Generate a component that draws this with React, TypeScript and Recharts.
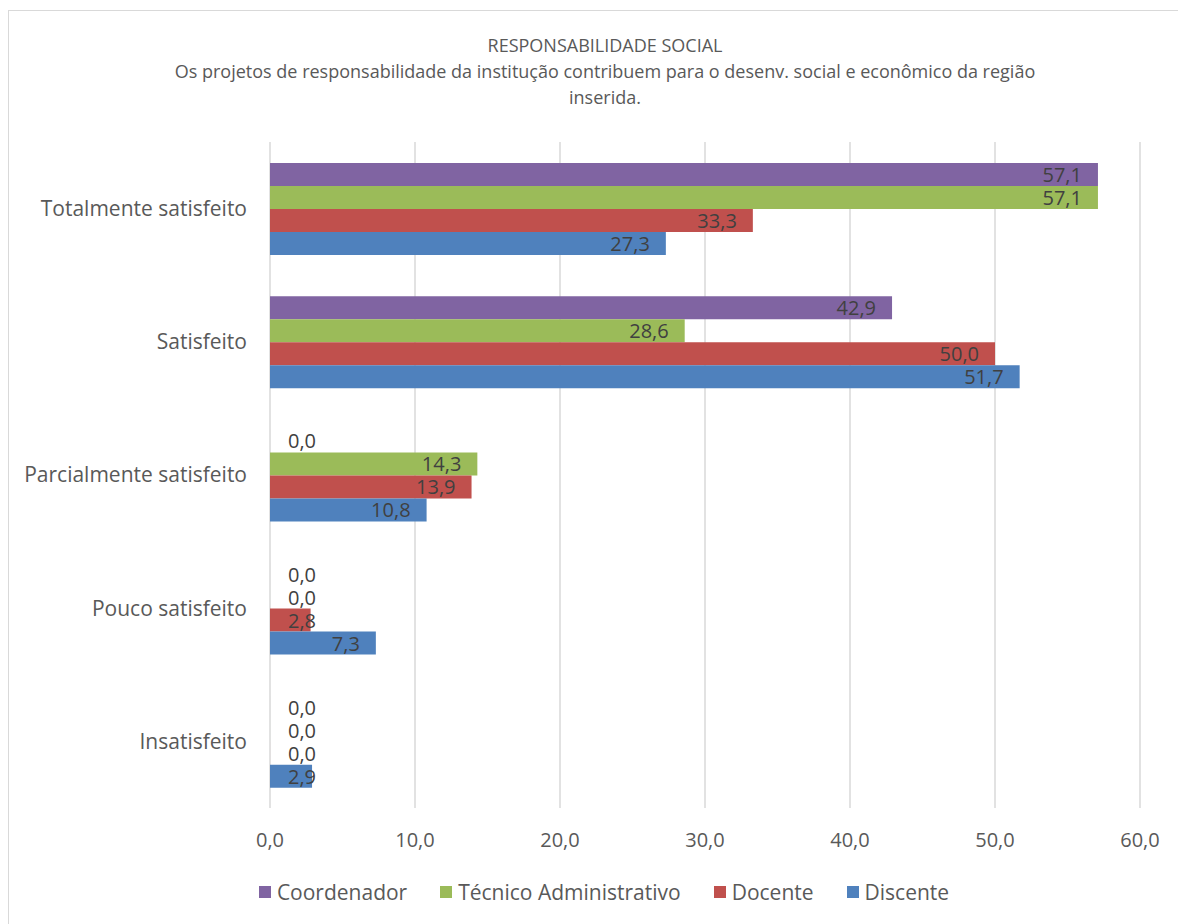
import React from 'react';
import { BarChart, Bar, XAxis, YAxis, CartesianGrid, LabelList } from 'recharts';

const categories = [
  'Totalmente satisfeito',
  'Satisfeito',
  'Parcialmente satisfeito',
  'Pouco satisfeito',
  'Insatisfeito',
];
const coordenador = [57.1, 42.9, 0, 0, 0];
const tecnico = [57.1, 28.6, 14.3, 0, 0];
const docente = [33.3, 50.0, 13.9, 2.8, 0];
const discente = [27.3, 51.7, 10.8, 7.3, 2.9];
const xTicks = [0, 10, 20, 30, 40, 50, 60];

const series = [
  { key: 'coordenador', name: 'Coordenador', color: '#8064A2' },
  { key: 'tecnico', name: 'Técnico Administrativo', color: '#9BBB59' },
  { key: 'docente', name: 'Docente', color: '#C0504D' },
  { key: 'discente', name: 'Discente', color: '#4F81BD' },
];

const data = categories.map((name, i) => ({
  name,
  coordenador: coordenador[i],
  tecnico: tecnico[i],
  docente: docente[i],
  discente: discente[i],
}));

const FONT = '"Open Sans", "Noto Sans", sans-serif';
const fmt = (v: number) => v.toFixed(1).replace('.', ',');

// Excel-style inside-end label; short bars push the label past the bar end
const BarLabel = (props: any) => {
  const { x, y, width, height, value } = props;
  const end = Math.max(x + width - 16, x + 46);
  return (
    <text
      x={end}
      y={y + height / 2}
      textAnchor="end"
      dominantBaseline="central"
      fill="#404040"
      fontSize={20}
      fontFamily={FONT}
    >
      {fmt(Number(value))}
    </text>
  );
};

export default function App() {
  return (
    <div
      style={{
        position: 'fixed',
        left: 0,
        top: 0,
        width: 1178,
        height: 924,
        overflow: 'hidden',
        background: '#fff',
        fontFamily: FONT,
      }}
    >
      <div
        style={{
          position: 'absolute',
          left: 8,
          top: 10,
          width: 1300,
          height: 1100,
          border: '1px solid #d9d9d9',
        }}
      />

      <div
        style={{
          position: 'absolute',
          left: 0,
          top: 32,
          width: 1210,
          textAlign: 'center',
          color: '#595959',
          fontSize: 18,
          lineHeight: '26px',
        }}
      >
        <div>RESPONSABILIDADE SOCIAL</div>
        <div>
          Os projetos de responsabilidade da institução contribuem para o desenv. social e econômico da região
        </div>
        <div>inserida.</div>
      </div>

      <div style={{ position: 'absolute', left: 0, top: 0 }}>
        <BarChart
          width={1178}
          height={924}
          data={data}
          layout="vertical"
          margin={{ top: 142, right: 38, bottom: 66, left: 0 }}
          barCategoryGap={21}
          barGap={0}
        >
          <CartesianGrid horizontal={false} stroke="#d9d9d9" strokeWidth={1.5} />
          <XAxis
            type="number"
            domain={[0, 60]}
            ticks={xTicks}
            tickFormatter={fmt}
            axisLine={false}
            tickLine={false}
            tickMargin={19}
            height={50}
            tick={{ fill: '#595959', fontSize: 20, fontFamily: FONT }}
          />
          <YAxis
            type="category"
            dataKey="name"
            width={270}
            axisLine={false}
            tickLine={false}
            tickMargin={17}
            tick={{ fill: '#595959', fontSize: 21, fontFamily: FONT }}
          />
          {series.map((s) => (
            <Bar
              key={s.key}
              dataKey={s.key}
              name={s.name}
              fill={s.color}
              minPointSize={0.01}
              isAnimationActive={false}
            >
              <LabelList dataKey={s.key} content={<BarLabel />} />
            </Bar>
          ))}
        </BarChart>
      </div>

      <div
        style={{
          position: 'absolute',
          left: 0,
          top: 878,
          width: 1208,
          display: 'flex',
          justifyContent: 'center',
          gap: 33,
          color: '#595959',
          fontSize: 21,
          lineHeight: '28px',
        }}
      >
        {series.map((s) => (
          <div key={s.key} style={{ display: 'flex', alignItems: 'center' }}>
            <span
              style={{ display: 'inline-block', width: 12, height: 12, background: s.color, marginRight: 6 }}
            />
            <span>{s.name}</span>
          </div>
        ))}
      </div>
    </div>
  );
}
